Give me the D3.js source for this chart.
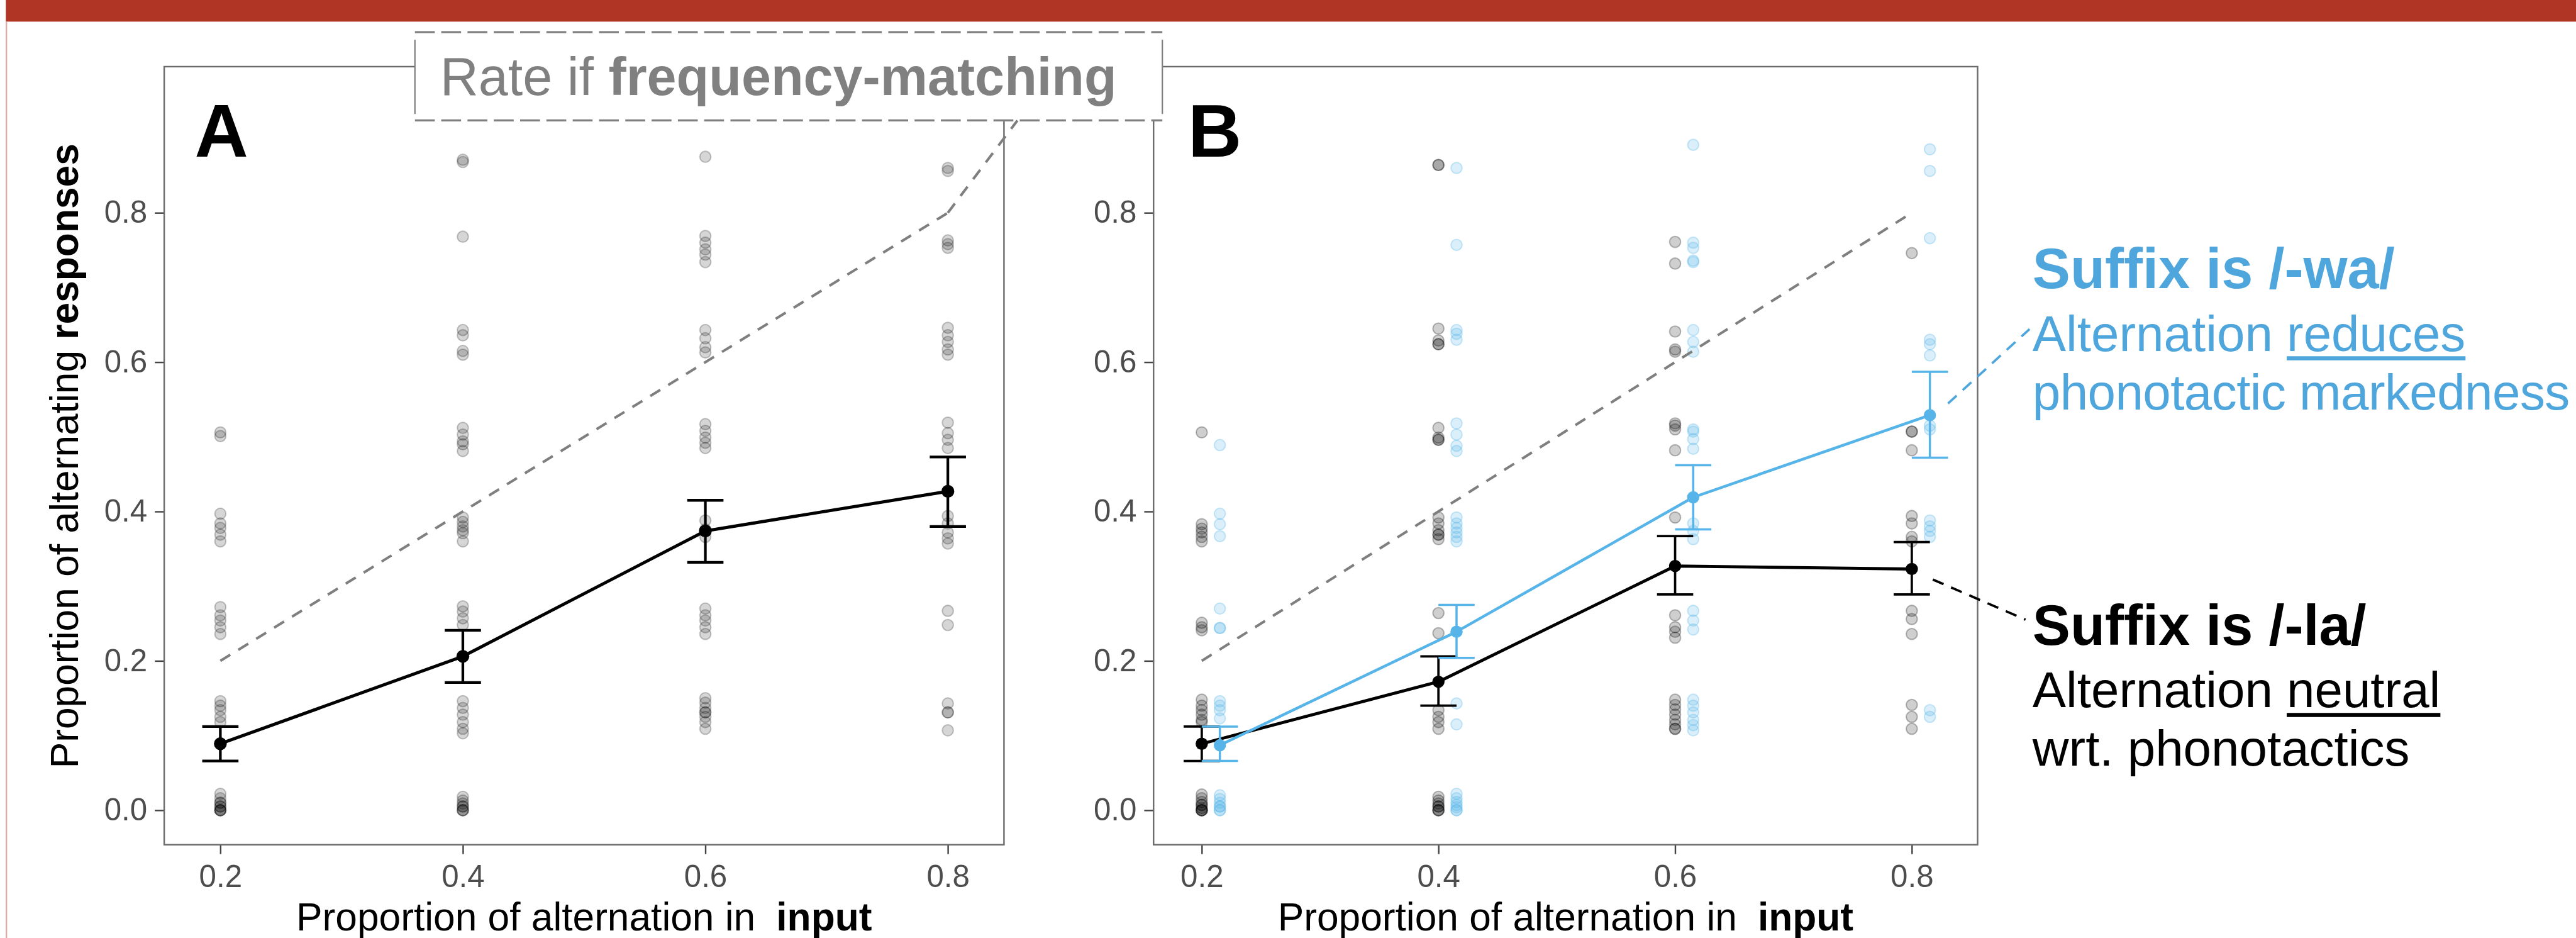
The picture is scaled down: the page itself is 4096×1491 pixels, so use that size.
<!DOCTYPE html>
<html>
<head>
<meta charset="utf-8">
<script src="https://cdn.jsdelivr.net/npm/d3@7"></script>
<style>
html,body{margin:0;padding:0;background:#fff;overflow:hidden}
text{font-family:"Liberation Sans",Arial,Helvetica,sans-serif}
</style>
</head>
<body>
<svg id="chart" width="4096" height="1491"></svg>
<script>
// ---------------- DATA ----------------
const xLevels = [0.2, 0.4, 0.6, 0.8];
const xTickLabels = ["0.2", "0.4", "0.6", "0.8"];
const yTicks = [0.0, 0.2, 0.4, 0.6, 0.8];
const yTickLabels = ["0.0", "0.2", "0.4", "0.6", "0.8"];
const matchRate = [0.2, 0.4, 0.6, 0.8];           // rate if frequency-matching

// Panel A: means and error bars
const meanA = [0.089, 0.206, 0.374, 0.427];
const loA   = [0.066, 0.171, 0.332, 0.380];
const hiA   = [0.112, 0.241, 0.415, 0.473];

// Panel B: suffix /-la/ (black)
const meanLa = [0.089, 0.172, 0.327, 0.323];
const loLa   = [0.066, 0.140, 0.289, 0.289];
const hiLa   = [0.112, 0.206, 0.367, 0.359];
// Panel B: suffix /-wa/ (blue)
const meanWa = [0.087, 0.239, 0.419, 0.529];
const loWa   = [0.066, 0.204, 0.376, 0.472];
const hiWa   = [0.112, 0.275, 0.462, 0.587];
const dodgeWa = 0.0153;  // horizontal dodge of /-wa/ series

// Individual participants, panel A (per input level)
const ptsA02 = [0.506,0.501,0.397,0.384,0.378,0.369,0.360,0.272,0.261,0.254,0.245,0.236,0.146,0.140,0.134,0.125,0.118,0.022,0.016,0.010,0.010,0.005,0.005,0.0,0.0,0.0,0.0];
const ptsA04 = [0.871,0.868,0.768,0.643,0.636,0.615,0.610,0.512,0.503,0.494,0.490,0.481,0.392,0.386,0.380,0.375,0.371,0.360,0.273,0.266,0.257,0.248,0.146,0.137,0.128,0.118,0.109,0.103,0.018,0.013,0.009,0.005,0.005,0.0,0.0,0.0];
const ptsA06 = [0.875,0.769,0.760,0.751,0.744,0.734,0.643,0.632,0.620,0.613,0.517,0.508,0.499,0.492,0.485,0.388,0.376,0.366,0.270,0.261,0.254,0.245,0.236,0.150,0.144,0.137,0.131,0.131,0.125,0.118,0.109];
const ptsA08 = [0.860,0.856,0.763,0.758,0.753,0.646,0.636,0.627,0.617,0.610,0.519,0.505,0.496,0.485,0.394,0.384,0.372,0.364,0.357,0.267,0.248,0.143,0.131,0.131,0.107];

// Individual participants, panel B
const ptsLa02 = [0.506,0.383,0.377,0.372,0.366,0.360,0.251,0.245,0.241,0.148,0.140,0.134,0.128,0.121,0.118,0.021,0.016,0.011,0.007,0.007,0.003,0.0,0.0,0.0,0.0];
const ptsLa04 = [0.864,0.864,0.645,0.629,0.624,0.624,0.512,0.499,0.496,0.496,0.392,0.384,0.375,0.369,0.369,0.363,0.264,0.237,0.134,0.125,0.118,0.109,0.018,0.013,0.009,0.005,0.005,0.0,0.0,0.0];
const ptsLa06 = [0.761,0.732,0.641,0.617,0.614,0.518,0.515,0.510,0.482,0.392,0.261,0.245,0.239,0.231,0.148,0.141,0.135,0.128,0.121,0.115,0.109,0.109];
const ptsLa08 = [0.746,0.507,0.507,0.482,0.394,0.384,0.366,0.360,0.267,0.256,0.236,0.141,0.125,0.109];
const ptsWa02 = [0.489,0.397,0.383,0.367,0.270,0.244,0.244,0.146,0.140,0.134,0.123,0.020,0.015,0.010,0.005,0.005,0.0,0.0];
const ptsWa04 = [0.860,0.757,0.643,0.638,0.630,0.518,0.503,0.488,0.481,0.392,0.384,0.378,0.372,0.366,0.360,0.143,0.115,0.022,0.016,0.011,0.007,0.004,0.0,0.0];
const ptsWa06 = [0.891,0.760,0.753,0.736,0.734,0.643,0.627,0.614,0.510,0.507,0.497,0.484,0.384,0.374,0.363,0.267,0.254,0.242,0.148,0.140,0.131,0.121,0.114,0.107];
const ptsWa08 = [0.885,0.856,0.766,0.630,0.624,0.609,0.515,0.510,0.388,0.380,0.374,0.366,0.134,0.125];

const ptsA  = [ptsA02, ptsA04, ptsA06, ptsA08];
const ptsLa = [ptsLa02, ptsLa04, ptsLa06, ptsLa08];
const ptsWa = [ptsWa02, ptsWa04, ptsWa06, ptsWa08];

const xTitleMain = "Proportion of alternation in ";
const xTitleBold = "input";
const yTitleMain = "Proportion of alternating ";
const yTitleBold = "responses";

// ---------------- DRAWING ----------------
const S = 4096 / 4408;
const svg = d3.select("#chart");
const root = svg.append("g").attr("transform", `scale(${S})`);

const BLUE = "#56B4E9";
const BLUE_TXT = "#4EA6DC";
const GREY_DASH = "#7f7f7f";
const FONT = "Liberation Sans, Arial, sans-serif";

// top red bar and left border
root.append("rect").attr("x", 10).attr("y", 0).attr("width", 4398).attr("height", 37).attr("fill", "#B03525");
root.append("line").attr("x1", 11).attr("x2", 11).attr("y1", 37).attr("y2", 1605)
  .attr("stroke", "#e2aaa4").attr("stroke-width", 2.5);

const yScale = d3.scaleLinear().domain([-0.0462, 0.9957]).range([1445, 114]);
const xScaleA = d3.scaleLinear().domain([0.1537, 0.8463]).range([281, 1718]);
const xScaleB = d3.scaleLinear().domain([0.1593, 0.8556]).range([1974, 3384]);

function drawPanel(xs, opts) {
  const g = root.append("g");
  const [x0, x1] = xs.range();
  const [y1, y0] = yScale.range();

  const ya = g.append("g").attr("transform", `translate(${x0},0)`)
    .call(d3.axisLeft(yScale).tickValues(yTicks).tickFormat((d, i) => yTickLabels[i]).tickSize(16).tickPadding(13));
  ya.select(".domain").remove();
  ya.selectAll(".tick line").attr("stroke", "#444").attr("stroke-width", 2.6);
  ya.selectAll(".tick text").attr("fill", "#4d4d4d").attr("font-size", 53).attr("font-family", FONT);

  const xa = g.append("g").attr("transform", `translate(0,${y1})`)
    .call(d3.axisBottom(xs).tickValues(xLevels).tickFormat((d, i) => xTickLabels[i]).tickSize(16).tickPadding(19));
  xa.select(".domain").remove();
  xa.selectAll(".tick line").attr("stroke", "#444").attr("stroke-width", 2.6);
  xa.selectAll(".tick text").attr("fill", "#4d4d4d").attr("font-size", 53).attr("font-family", FONT);

  const xt = g.append("text").attr("x", (x0 + x1) / 2).attr("y", 1592)
    .attr("text-anchor", "middle").attr("font-size", 67).attr("fill", "#000");
  xt.append("tspan").text(xTitleMain);
  xt.append("tspan").attr("dx", 17).attr("font-weight", "bold").text(xTitleBold);

  g.append("rect").attr("x", x0).attr("y", y0).attr("width", x1 - x0).attr("height", y1 - y0)
    .attr("fill", "none").attr("stroke", "#6b6b6b").attr("stroke-width", 2.6);

  g.append("text").attr("x", opts.letterX).attr("y", 268).attr("font-size", 127)
    .attr("font-weight", "bold").attr("fill", "#000").text(opts.letter);
  return g;
}

function drawPoints(g, xs, cols, dx, color, op) {
  cols.forEach((vals, i) => {
    g.append("g").selectAll("circle").data(vals).join("circle")
      .attr("cx", xs(xLevels[i] + dx)).attr("cy", d => yScale(d)).attr("r", 9.5)
      .attr("fill", color).attr("fill-opacity", op)
      .attr("stroke", color).attr("stroke-opacity", op * 1.4).attr("stroke-width", 2.2);
  });
}

function drawMatchLine(g, xs) {
  const line = d3.line().x(d => xs(d)).y((d, i) => yScale(matchRate[i]));
  g.append("path").datum(xLevels).attr("d", line).attr("fill", "none")
    .attr("stroke", GREY_DASH).attr("stroke-width", 4.4).attr("stroke-dasharray", "20,16");
}

function drawSeries(g, xs, mean, lo, hi, dx, color, lw, ew, r) {
  const line = d3.line().x((d, i) => xs(xLevels[i] + dx)).y(d => yScale(d));
  g.append("path").datum(mean).attr("d", line).attr("fill", "none")
    .attr("stroke", color).attr("stroke-width", lw).attr("stroke-linejoin", "round");
  const eb = g.append("g").attr("stroke", color).attr("stroke-width", ew);
  xLevels.forEach((lv, i) => {
    const cx = xs(lv + dx);
    eb.append("line").attr("x1", cx).attr("x2", cx).attr("y1", yScale(lo[i])).attr("y2", yScale(hi[i]));
    eb.append("line").attr("x1", cx - 31).attr("x2", cx + 31).attr("y1", yScale(lo[i])).attr("y2", yScale(lo[i]));
    eb.append("line").attr("x1", cx - 31).attr("x2", cx + 31).attr("y1", yScale(hi[i])).attr("y2", yScale(hi[i]));
  });
  g.append("g").selectAll("circle").data(mean).join("circle")
    .attr("cx", (d, i) => xs(xLevels[i] + dx)).attr("cy", d => yScale(d)).attr("r", r).attr("fill", color);
}

// ---- Panel A ----
const gA = drawPanel(xScaleA, {letter: "A", letterX: 333});
drawPoints(gA, xScaleA, ptsA, 0, "#000", 0.16);
drawMatchLine(gA, xScaleA);
drawSeries(gA, xScaleA, meanA, loA, hiA, 0, "#000", 5.4, 4.6, 11);

const yt = root.append("text").attr("transform", "translate(133,780) rotate(-90)")
  .attr("text-anchor", "middle").attr("font-size", 67).attr("fill", "#000");
yt.append("tspan").text(yTitleMain);
yt.append("tspan").attr("font-weight", "bold").text(yTitleBold);

// ---- Panel B ----
const gB = drawPanel(xScaleB, {letter: "B", letterX: 2033});
drawPoints(gB, xScaleB, ptsLa, 0, "#000", 0.19);
drawPoints(gB, xScaleB, ptsWa, dodgeWa, BLUE, 0.22);
drawMatchLine(gB, xScaleB);
drawSeries(gB, xScaleB, meanLa, loLa, hiLa, 0, "#000", 5.2, 4.0, 10.5);
drawSeries(gB, xScaleB, meanWa, loWa, hiWa, dodgeWa, BLUE, 4.8, 3.8, 10.5);

// ---- "Rate if frequency-matching" box ----
const box = root.append("g");
box.append("rect").attr("x", 710).attr("y", 55).attr("width", 1279).attr("height", 151).attr("fill", "#fff");
[55, 206].forEach(yy => box.append("line").attr("x1", 710).attr("x2", 1989).attr("y1", yy).attr("y2", yy)
  .attr("stroke", GREY_DASH).attr("stroke-width", 3.4).attr("stroke-dasharray", "34,11"));
[710, 1989].forEach(xx => box.append("line").attr("x1", xx).attr("x2", xx).attr("y1", 68).attr("y2", 195)
  .attr("stroke", GREY_DASH).attr("stroke-width", 2.4));
const bt = box.append("text").attr("x", 753).attr("y", 163).attr("font-size", 91).attr("fill", "#808080");
bt.append("tspan").text("Rate if ");
bt.append("tspan").attr("font-weight", "bold").text("frequency-matching");

root.append("line").attr("x1", xScaleA(xLevels[3])).attr("y1", yScale(matchRate[3]))
  .attr("x2", 1741).attr("y2", 206)
  .attr("stroke", GREY_DASH).attr("stroke-width", 4.4).attr("stroke-dasharray", "20,16");

// ---- right annotations ----
function annot(lines, color, x) {
  lines.forEach(L => {
    const t = root.append("text").attr("x", x).attr("y", L.y).attr("font-size", L.size)
      .attr("fill", color).attr("font-weight", L.bold ? "bold" : "normal");
    if (L.ls) t.attr("letter-spacing", L.ls);
    t.append("tspan").text(L.a);
    if (L.u) {
      t.append("tspan").text(L.u);
      const n = t.node();
      const i0 = L.a.length, i1 = L.a.length + L.u.length - 1;
      const xs0 = n.getStartPositionOfChar(i0).x, xs1 = n.getEndPositionOfChar(i1).x;
      root.append("line").attr("x1", xs0).attr("x2", xs1).attr("y1", L.y + 13).attr("y2", L.y + 13)
        .attr("stroke", color).attr("stroke-width", 7);
    }
  });
}
annot([
  {a: "Suffix is /-wa/", y: 493, size: 97, bold: true},
  {a: "Alternation ", u: "reduces", y: 600, size: 86},
  {a: "phonotactic markedness", y: 701, size: 86, ls: -0.6}
], BLUE_TXT, 3478);
annot([
  {a: "Suffix is /-la/", y: 1103, size: 97, bold: true},
  {a: "Alternation ", u: "neutral", y: 1210, size: 86},
  {a: "wrt. phonotactics", y: 1310, size: 86}
], "#000", 3478);

root.append("line").attr("x1", xScaleB(xLevels[3] + dodgeWa) + 31).attr("y1", yScale(meanWa[3]) - 20)
  .attr("x2", 3473).attr("y2", 563)
  .attr("stroke", BLUE_TXT).attr("stroke-width", 4).attr("stroke-dasharray", "20,14");
root.append("line").attr("x1", xScaleB(xLevels[3]) + 36).attr("y1", yScale(meanLa[3]) + 18)
  .attr("x2", 3466).attr("y2", 1060)
  .attr("stroke", "#000").attr("stroke-width", 4).attr("stroke-dasharray", "20,14");
</script>
</body>
</html>
